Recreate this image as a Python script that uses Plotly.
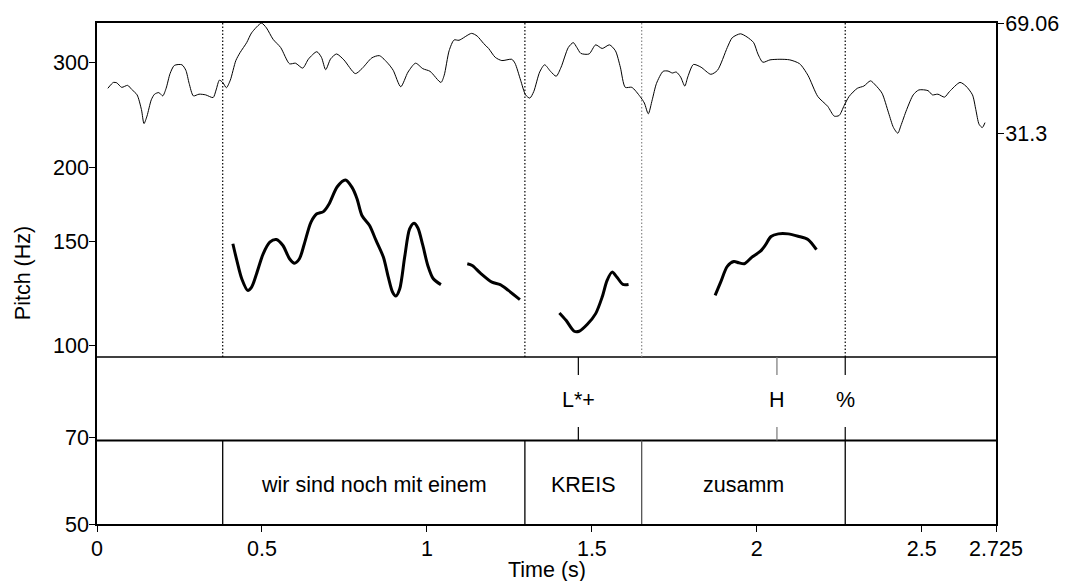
import plotly.graph_objects as go
import numpy as np

# ---------------- data ----------------
T_END = 2.725

# intensity contour (dB), right axis
int_t = [0.0329, 0.0497, 0.0599, 0.0748, 0.0928, 0.1048, 0.1215, 0.1347, 0.1425, 0.1515,
         0.1646, 0.1745, 0.1874, 0.1993, 0.2095, 0.2215, 0.2344, 0.2574, 0.2694, 0.2793,
         0.2921, 0.3092, 0.3292, 0.3520, 0.3610, 0.3711, 0.3819, 0.3921, 0.4041, 0.4208,
         0.4340, 0.4537, 0.4687, 0.4986, 0.5136, 0.5337, 0.5567, 0.5836, 0.6016, 0.6235,
         0.6414, 0.6663, 0.6803, 0.6932, 0.7082, 0.7261, 0.7483, 0.7830, 0.8030, 0.8330,
         0.8560, 0.8830, 0.8979, 0.9207, 0.9428, 0.9656, 0.9877, 1.0096, 1.0425, 1.0524,
         1.0673, 1.0823, 1.0973, 1.1353, 1.1523, 1.1721, 1.1871, 1.2071, 1.2272, 1.2571,
         1.2670, 1.2840, 1.2990, 1.3119, 1.3238, 1.3418, 1.3568, 1.3747, 1.3918, 1.4068,
         1.4286, 1.4436, 1.4546, 1.4666, 1.4915, 1.5115, 1.5313, 1.5534, 1.5714, 1.5863,
         1.6013, 1.6211, 1.6462, 1.6591, 1.6710, 1.6830, 1.6959, 1.7159, 1.7309, 1.7438,
         1.7557, 1.7689, 1.7817, 1.7907, 1.8078, 1.8306, 1.8605, 1.8806, 1.9105, 1.9255,
         1.9503, 1.9704, 1.9904, 2.0033, 2.0183, 2.0400, 2.0700, 2.0999, 2.1299, 2.1549,
         2.1849, 2.2149, 2.2347, 2.2496, 2.2646, 2.2795, 2.3047, 2.3245, 2.3445, 2.3595,
         2.3795, 2.3993, 2.4142, 2.4274, 2.4364, 2.4543, 2.4741, 2.4911, 2.5190, 2.5322,
         2.5489, 2.5690, 2.5839, 2.6159, 2.6338, 2.6537, 2.6638, 2.6737, 2.6836, 2.6917]
int_db = [46.69, 48.70, 48.57, 47.02, 47.70, 46.35, 44.44, 39.40, 34.60, 37.15,
          42.76, 44.67, 45.21, 44.10, 46.69, 51.73, 54.52, 54.75, 52.84, 48.37,
          44.10, 44.67, 44.44, 43.53, 46.12, 49.48, 48.57, 46.89, 49.48, 56.19,
          58.98, 62.34, 65.70, 69.00, 67.38, 63.48, 60.66, 55.09, 55.29, 53.61,
          56.77, 59.22, 57.30, 53.07, 56.77, 58.45, 56.43, 51.73, 53.41, 57.10,
          57.87, 55.09, 52.84, 47.23, 52.26, 55.29, 53.41, 52.50, 48.70, 51.16,
          59.55, 63.25, 63.15, 65.50, 64.59, 62.01, 60.33, 57.30, 56.19, 56.63,
          55.29, 49.48, 44.44, 43.33, 45.55, 52.26, 54.75, 52.50, 50.82, 53.94,
          60.66, 62.34, 60.66, 58.65, 58.45, 61.57, 60.33, 61.57, 59.55, 53.94,
          47.02, 47.02, 43.87, 41.65, 37.95, 42.76, 48.37, 52.50, 52.60, 51.93,
          52.26, 50.58, 47.46, 50.58, 54.85, 53.94, 51.49, 52.84, 60.66, 64.02,
          65.36, 64.26, 62.34, 58.45, 55.62, 56.43, 56.63, 56.43, 55.09, 51.16,
          43.87, 40.51, 37.15, 37.38, 40.74, 43.87, 46.69, 47.46, 49.24, 47.80,
          45.01, 38.29, 33.25, 31.30, 33.79, 39.40, 44.44, 46.12, 45.88, 44.44,
          44.67, 43.67, 45.55, 48.70, 47.46, 44.44, 39.40, 34.36, 33.25, 34.93]

# pitch contour (Hz), voiced stretches
pitch1_t = [0.4118, 0.4238, 0.4388, 0.4567, 0.4687, 0.4837, 0.5037, 0.5238, 0.5435, 0.5636,
            0.5836, 0.5986, 0.6136, 0.6285, 0.6483, 0.6663, 0.6863, 0.7034, 0.7282, 0.7531,
            0.7731, 0.7881, 0.8030, 0.8261, 0.8458, 0.8680, 0.8830, 0.8958, 0.9057, 0.9177,
            0.9326, 0.9476, 0.9608, 0.9727, 0.9877, 1.0027, 1.0194, 1.0425]
pitch1_hz = [148.5, 139.2, 129.6, 123.9, 125.5, 132.2, 142.8, 149.4, 151.0, 147.5,
             140.1, 137.7, 140.1, 148.5, 161.4, 166.8, 168.2, 173.3, 185.3, 190.2,
             184.8, 176.9, 165.7, 159.4, 150.4, 141.0, 130.4, 123.1, 121.2, 124.7,
             141.0, 157.3, 160.8, 157.9, 147.5, 136.5, 129.6, 126.7]
pitch2_t = [1.1224, 1.1373, 1.1622, 1.1972, 1.2221, 1.2469, 1.2819]
pitch2_hz = [137.4, 136.5, 132.5, 127.9, 126.7, 123.9, 119.5]
pitch3_t = [1.4016, 1.4217, 1.4465, 1.4615, 1.4863, 1.5115, 1.5312, 1.5462, 1.5612, 1.5761,
            1.5941, 1.6112]
pitch3_hz = [113.5, 110.3, 105.7, 105.7, 108.6, 113.2, 120.7, 128.8, 133.0, 130.4,
             126.8, 126.8]
pitch4_t = [1.8736, 1.8904, 1.9105, 1.9305, 1.9455, 1.9622, 1.9853, 2.0101, 2.0251, 2.0431,
            2.0652, 2.0951, 2.1251, 2.1550, 2.1808]
pitch4_hz = [121.5, 127.9, 136.0, 138.6, 137.9, 137.4, 141.0, 144.1, 147.5, 152.7,
             154.3, 154.3, 152.9, 151.0, 145.1]

# TextGrid
word_bounds = [0.0, 0.381, 1.297, 1.651, 2.268, 2.725]
word_labels = ["", "wir sind noch mit einem", "KREIS", "zusamm", ""]
tone_times = [1.459, 2.061, 2.268]
tone_labels = ["L*+", "H", "%"]

# axes
pitch_ticks = [50, 70, 100, 150, 200, 300]
pitch_range = [50, 350]
time_ticks = [0, 0.5, 1, 1.5, 2, 2.5, 2.725]
time_tick_text = ["0", "0.5", "1", "1.5", "2", "2.5", "2.725"]
int_ticks = [31.3, 69.06]

# ---------------- layout constants ----------------
FONT = "Liberation Sans, Arial, Helvetica, sans-serif"
FS = 21.5
TIER_TOP = 1 / 3      # paper fraction: top of tone tier
TIER_MID = 1 / 6      # paper fraction: boundary between tone and word tier
INT_LOW_FRAC = 0.78   # paper fraction where the intensity minimum label sits
DOTS = "1.5px,2px"

span = (int_ticks[1] - int_ticks[0]) / (1 - INT_LOW_FRAC)
int_range = [int_ticks[1] - span, int_ticks[1]]

fig = go.Figure()

fig.add_trace(go.Scatter(x=int_t, y=int_db, mode="lines", yaxis="y2",
                         line=dict(color="black", width=1, shape="spline", smoothing=0.7),
                         hoverinfo="skip", showlegend=False))

for st, sh in [(pitch1_t, pitch1_hz), (pitch2_t, pitch2_hz),
               (pitch3_t, pitch3_hz), (pitch4_t, pitch4_hz)]:
    fig.add_trace(go.Scatter(x=st, y=sh, mode="lines", yaxis="y",
                             line=dict(color="black", width=3, shape="spline", smoothing=0.8),
                             hoverinfo="skip", showlegend=False))

shapes = []
shapes.append(dict(type="line", xref="paper", yref="paper", x0=0, x1=1, y0=TIER_TOP, y1=TIER_TOP,
                   line=dict(color="black", width=1.5)))
shapes.append(dict(type="line", xref="paper", yref="paper", x0=0, x1=1, y0=TIER_MID, y1=TIER_MID,
                   line=dict(color="black", width=2)))
for b in word_bounds[1:-1]:
    col = "#555555" if abs(b - 1.651) < 1e-6 else "black"
    shapes.append(dict(type="line", xref="x", yref="paper", x0=b, x1=b, y0=0, y1=TIER_MID,
                       line=dict(color=col, width=1.3)))
    shapes.append(dict(type="line", xref="x", yref="paper", x0=b, x1=b, y0=TIER_TOP, y1=1,
                       line=dict(color="#888888" if col != "black" else "black", width=1.2,
                                 dash=DOTS)))
for tt in tone_times:
    col = "#777777" if abs(tt - 2.061) < 1e-6 else "black"
    shapes.append(dict(type="line", xref="x", yref="paper", x0=tt, x1=tt,
                       y0=TIER_TOP - 0.036, y1=TIER_TOP, line=dict(color=col, width=1.2)))
    shapes.append(dict(type="line", xref="x", yref="paper", x0=tt, x1=tt,
                       y0=TIER_MID, y1=TIER_MID + 0.027, line=dict(color=col, width=1.2)))

annotations = []
for tt, lab in zip(tone_times, tone_labels):
    annotations.append(dict(x=tt, y=(TIER_TOP + TIER_MID) / 2, xref="x", yref="paper",
                            text=lab, showarrow=False, yanchor="middle", yshift=-1,
                            font=dict(family=FONT, size=FS, color="black")))
for i, lab in enumerate(word_labels):
    if lab:
        annotations.append(dict(x=(word_bounds[i] + word_bounds[i + 1]) / 2, y=TIER_MID / 2,
                                xref="x", yref="paper", text=lab, showarrow=False,
                                yanchor="middle", yshift=-3,
                                font=dict(family=FONT, size=FS, color="black")))
annotations.append(dict(x=-0.0827, y=0.5, xref="paper", yref="paper", text="Pitch (Hz)",
                        textangle=-90, showarrow=False, xanchor="center", yanchor="middle",
                        font=dict(family=FONT, size=FS, color="black")))
annotations.append(dict(x=0.5, y=-0.0909, xref="paper", yref="paper", text="Time (s)",
                        showarrow=False, xanchor="center", yanchor="middle",
                        font=dict(family=FONT, size=FS, color="black")))

tickfont = dict(family=FONT, size=FS, color="black")
fig.update_layout(
    width=1071, height=581, autosize=False,
    margin=dict(l=97, r=64, t=22, b=57, pad=0),
    paper_bgcolor="white", plot_bgcolor="white",
    font=dict(family=FONT, size=FS, color="black"),
    showlegend=False,
    shapes=shapes, annotations=annotations,
    xaxis=dict(range=[0, T_END], tickvals=time_ticks, ticktext=time_tick_text,
               ticks="outside", ticklen=6, tickwidth=1.2, tickcolor="black",
               showline=True, linecolor="black", linewidth=2, mirror=True,
               showgrid=False, zeroline=False, tickfont=tickfont,
               ticklabelstandoff=-2),
    yaxis=dict(type="log", range=[np.log10(pitch_range[0]), np.log10(pitch_range[1])],
               tickvals=pitch_ticks, ticktext=[str(v) for v in pitch_ticks],
               ticks="outside", ticklen=6, tickwidth=1.2, tickcolor="black",
               showline=True, linecolor="black", linewidth=1.5,
               showgrid=False, zeroline=False, tickfont=tickfont,
               ticklabelstandoff=-4),
    yaxis2=dict(overlaying="y", side="right", range=int_range,
                tickvals=int_ticks, ticktext=["31.3", "69.06"],
                ticks="outside", ticklen=6, tickwidth=1.2, tickcolor="black",
                showline=True, linecolor="black", linewidth=2,
                showgrid=False, zeroline=False, tickfont=tickfont,
                ticklabelstandoff=-3),
)

fig.write_html("out.html")
